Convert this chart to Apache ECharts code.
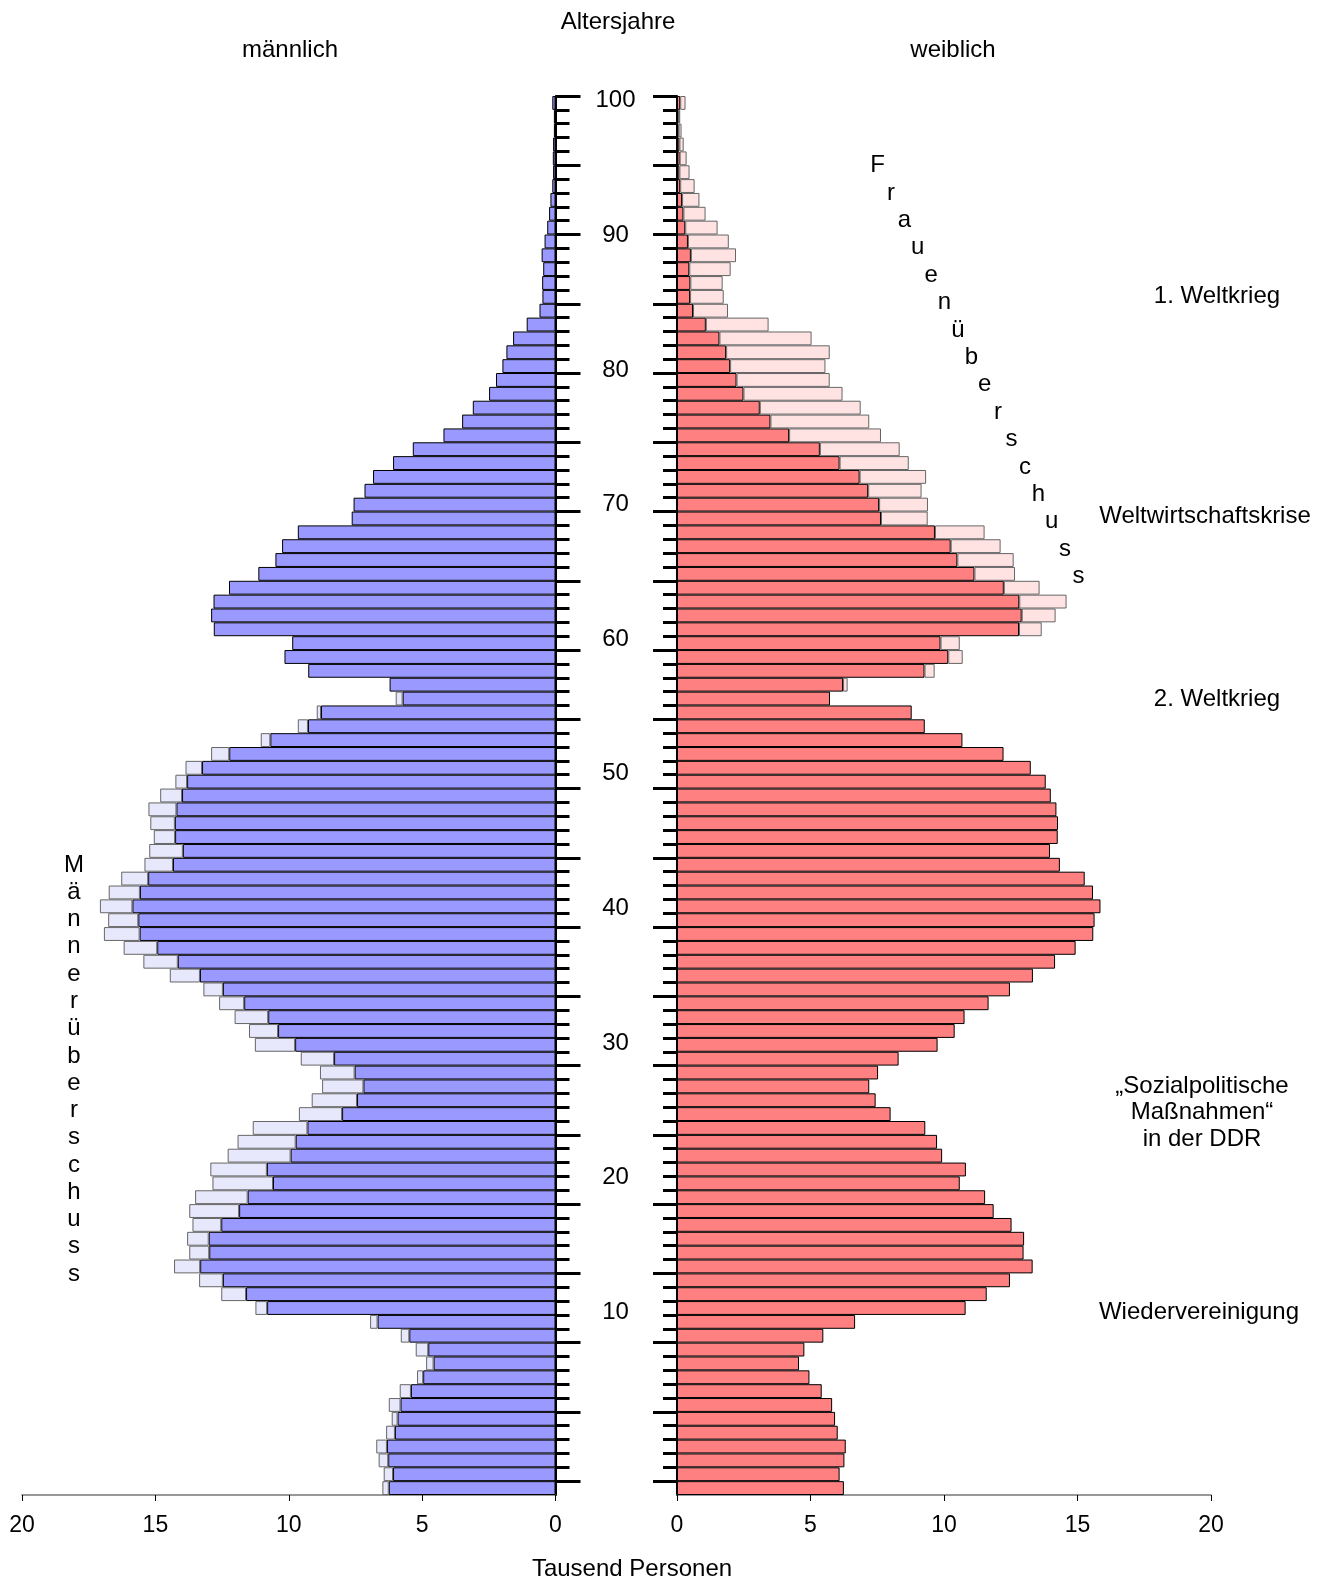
<!DOCTYPE html>
<html>
<head>
<meta charset="utf-8">
<script src="https://cdn.jsdelivr.net/npm/echarts@6/dist/echarts.min.js"></script>
<style>
  html, body { margin: 0; padding: 0; background: #fff; }
  #chart { width: 1332px; height: 1580px; }
</style>
</head>
<body>
<div id="chart"></div>
<script>
// Altersjahre 0..100 (Kategorien der y-Achse)
const ages = Array.from({ length: 101 }, (_, i) => String(i));
const ageLabels = [10, 20, 30, 40, 50, 60, 70, 80, 90, 100];

// Tausend Personen je Altersjahr, Alter 0 -> 100
const male = [
    6.49, 6.44, 6.63, 6.72, 6.35, 6.14, 6.25, 5.84, 5.19, 4.85,
    5.24, 5.80, 6.95, 11.25, 12.53, 13.36, 14.30, 13.73, 13.81, 13.61,
    13.73, 13.51, 12.86, 12.94, 12.29, 11.92, 11.35, 9.62, 9.14, 8.75,
    8.83, 9.55, 11.27, 11.49, 12.03, 12.61, 13.20, 14.46, 15.45, 16.19,
    16.93, 16.77, 17.08, 16.75, 16.28, 15.41, 15.23, 15.06, 15.19, 15.26,
    14.82, 14.25, 13.87, 12.91, 11.05, 9.66, 8.95, 5.99, 6.22, 9.27,
    10.16, 9.87, 12.81, 12.91, 12.82, 12.24, 11.14, 10.50, 10.25, 9.66,
    7.64, 7.57, 7.16, 6.84, 6.09, 5.35, 4.20, 3.50, 3.10, 2.49,
    2.23, 1.99, 1.84, 1.59, 1.08, 0.60, 0.49, 0.50, 0.46, 0.52,
    0.41, 0.31, 0.24, 0.19, 0.12, 0.09, 0.10, 0.09, 0.06, 0.06,
    0.12
];
const female = [
    6.25, 6.09, 6.27, 6.32, 6.02, 5.92, 5.81, 5.42, 4.96, 4.57,
    4.77, 5.48, 6.67, 10.81, 11.60, 12.47, 13.32, 12.98, 13.00, 12.53,
    11.86, 11.54, 10.59, 10.82, 9.93, 9.74, 9.30, 8.00, 7.44, 7.20,
    7.53, 8.30, 9.76, 10.40, 10.77, 11.67, 12.47, 13.33, 14.16, 14.93,
    15.59, 15.64, 15.86, 15.58, 15.27, 14.34, 13.97, 14.26, 14.27, 14.21,
    14.00, 13.81, 13.25, 12.23, 10.69, 9.28, 8.79, 5.73, 6.39, 9.65,
    10.70, 10.59, 13.66, 14.18, 14.59, 13.58, 12.66, 12.61, 12.12, 11.52,
    9.39, 9.40, 9.16, 9.33, 8.68, 8.34, 7.64, 7.20, 6.88, 6.20,
    5.72, 5.56, 5.72, 5.04, 3.43, 1.91, 1.75, 1.71, 2.01, 2.21,
    1.94, 1.52, 1.07, 0.84, 0.66, 0.47, 0.36, 0.25, 0.17, 0.12,
    0.32
];

// gemeinsamer Teil + Überschuss je Seite
const common = male.map((m, i) => Math.min(m, female[i]));
const maleExcess = male.map((m, i) => (m > female[i] ? +(m - female[i]).toFixed(2) : null));
const femaleExcess = female.map((f, i) => (f > male[i] ? +(f - male[i]).toFixed(2) : null));

const FONT = "'Liberation Sans', Arial, sans-serif";

const text = (str, x, y, size) => ({
    type: 'text',
    style: {
        text: str, x, y,
        font: `${size || 24}px ${FONT}`,
        fill: '#000',
        textAlign: 'center',
        textVerticalAlign: 'middle'
    }
});

const graphics = [
    text('Altersjahre', 618, 22.5),
    text('männlich', 290, 50),
    text('weiblich', 953, 50),
    text('1. Weltkrieg', 1217, 296.5),
    text('Weltwirtschaftskrise', 1205, 516.5),
    text('2. Weltkrieg', 1217, 699.5),
    text('\u201ESozialpolitische', 1202, 1086.5),
    text('Maßnahmen\u201C', 1202, 1112.5),
    text('in der DDR', 1202, 1139.5),
    text('Wiedervereinigung', 1199, 1312.5),
    text('Tausend Personen', 632, 1569.5)
];
'Männerüberschuss'.split('').forEach((ch, i) => {
    graphics.push(text(ch, 74, 865 + i * 27.27));
});
'Frauenüberschuss'.split('').forEach((ch, i) => {
    graphics.push(text(ch, 877.5 + i * 13.4, 165.5 + i * 27.4));
});

const valueAxis = (grid, inverse) => ({
    gridIndex: grid,
    type: 'value',
    min: 0,
    max: 20,
    interval: 5,
    inverse,
    position: 'bottom',
    splitLine: { show: false },
    axisLine: { show: true, onZero: false, lineStyle: { color: '#777', width: 1.5 } },
    axisTick: { show: true, length: 6, lineStyle: { color: '#000', width: 1 } },
    axisLabel: { fontSize: 23, fontFamily: FONT, color: '#000', margin: 19 }
});

const catAxis = (grid, pos, tickLen, every5, showLine) => ({
    gridIndex: grid,
    type: 'category',
    data: ages,
    position: pos,
    axisLine: { show: showLine, onZero: false, lineStyle: { color: '#000', width: 2 } },
    axisTick: {
        show: true,
        length: tickLen,
        interval: every5 ? (idx) => idx % 5 === 1 : (idx) => idx >= 1,
        lineStyle: { color: '#000', width: 3 }
    },
    axisLabel: { show: false },
    splitLine: { show: false }
});

const chart = echarts.init(document.getElementById('chart'));

chart.setOption({
    animation: false,
    backgroundColor: '#fff',
    grid: [
        { left: 22, top: 96, width: 533.5, height: 1399 },
        { left: 677, top: 96, width: 534, height: 1399 }
    ],
    xAxis: [valueAxis(0, true), valueAxis(1, false)],
    yAxis: [
        catAxis(0, 'right', 14, false, true),
        catAxis(0, 'right', 25, true, false),
        {
            // Beschriftung der Altersjahre in der Mitte
            gridIndex: 0,
            type: 'value',
            min: -3.58,
            max: 100.36,
            position: 'right',
            axisLine: { show: false },
            axisTick: { show: false },
            splitLine: { show: false },
            axisLabel: {
                customValues: ageLabels,
                align: 'center',
                margin: 60,
                fontSize: 24,
                fontFamily: FONT,
                color: '#000'
            }
        },
        catAxis(1, 'left', 14, false, true),
        catAxis(1, 'left', 24, true, false)
    ],
    series: [
        {
            name: 'männlich',
            type: 'bar',
            xAxisIndex: 0,
            yAxisIndex: 0,
            stack: 'm',
            barCategoryGap: '0%',
            data: common,
            itemStyle: { color: '#9999FF', borderColor: '#000', borderWidth: 1 }
        },
        {
            name: 'Männerüberschuss',
            type: 'bar',
            xAxisIndex: 0,
            yAxisIndex: 0,
            stack: 'm',
            data: maleExcess,
            itemStyle: { color: '#E8E8FC', borderColor: '#666', borderWidth: 1 }
        },
        {
            name: 'weiblich',
            type: 'bar',
            xAxisIndex: 1,
            yAxisIndex: 3,
            stack: 'f',
            barCategoryGap: '0%',
            data: common,
            itemStyle: { color: '#FF8080', borderColor: '#000', borderWidth: 1 }
        },
        {
            name: 'Frauenüberschuss',
            type: 'bar',
            xAxisIndex: 1,
            yAxisIndex: 3,
            stack: 'f',
            data: femaleExcess,
            itemStyle: { color: '#FFE2E2', borderColor: '#666', borderWidth: 1 }
        }
    ],
    graphic: graphics
});
</script>
</body>
</html>
